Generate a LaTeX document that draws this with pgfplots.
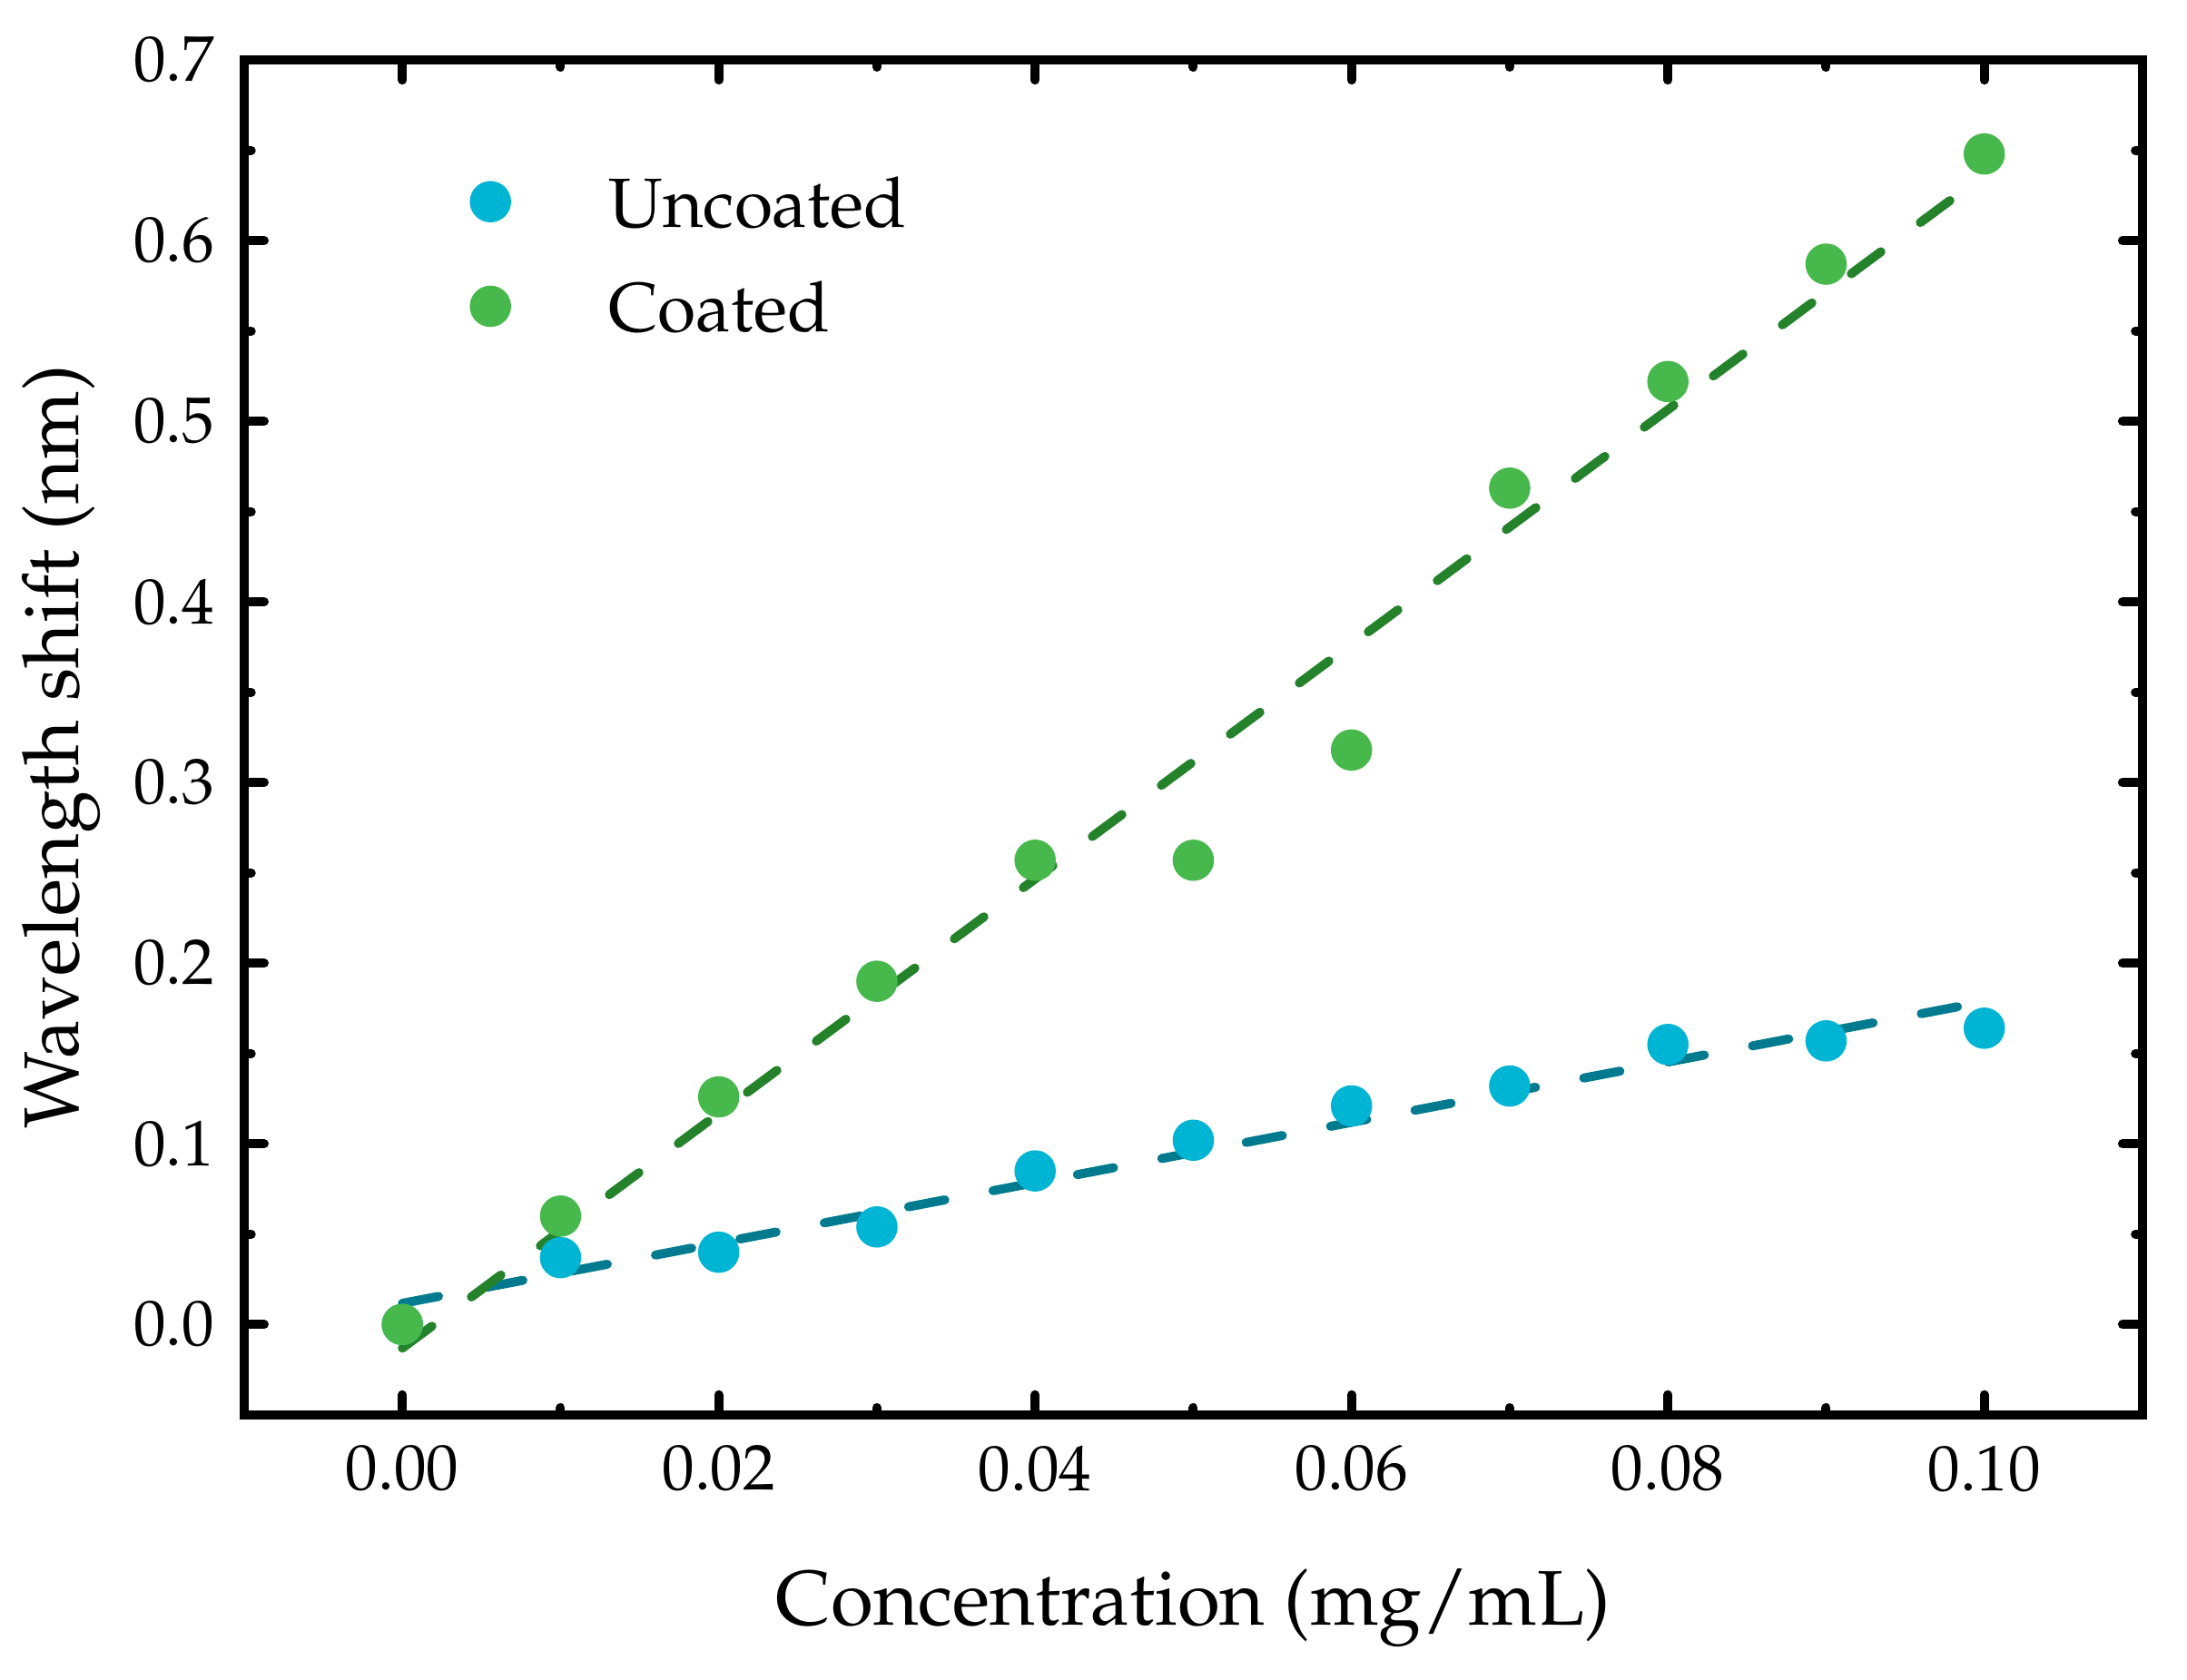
\documentclass[border=0pt]{standalone}
\usepackage[T1]{fontenc}
\usepackage{mathpazo}
\usepackage{pgfplots}
\pgfplotsset{compat=1.18}

\definecolor{uncmark}{RGB}{0,180,212}
\definecolor{uncline}{RGB}{0,122,143}
\definecolor{coamark}{RGB}{71,184,75}
\definecolor{coaline}{RGB}{35,130,42}

\begin{document}
\begin{tikzpicture}
\begin{axis}[
    scale only axis,
    width=293.9pt, height=209.8pt,
    xmin=-0.01, xmax=0.11,
    ymin=-0.05, ymax=0.7,
    xtick={0,0.02,0.04,0.06,0.08,0.1},
    ytick={0,0.1,0.2,0.3,0.4,0.5,0.6,0.7},
    minor x tick num=1,
    minor y tick num=1,
    tick align=inside,
    major tick length=3.1pt,
    minor tick length=1.1pt,
    every tick/.style={black, line width=1.4pt, line cap=round},
    axis line style={line width=1.45pt},
    scaled ticks=false,
    xticklabel style={/pgf/number format/fixed, /pgf/number format/fixed zerofill,
        /pgf/number format/precision=2, yshift=-1.2pt},
    yticklabel style={/pgf/number format/fixed, /pgf/number format/fixed zerofill,
        /pgf/number format/precision=1, xshift=-1.1pt},
    ticklabel style={font=\fontsize{10}{12}\selectfont},
    xlabel={Concentration (mg/mL)},
    ylabel={Wavelength shift (nm)},
    label style={font=\fontsize{12}{14}\selectfont},
    xlabel style={at={(axis description cs:0.5,-0.1554)}, anchor=base},
    ylabel style={at={(axis description cs:-0.0871,0.493)}, anchor=base},
    legend style={draw=none, fill=none, at={(0.118,0.935)}, anchor=north west,
        inner sep=0pt, font=\fontsize{10.8}{13}\selectfont,
        nodes={text height=8pt, text depth=0pt, inner ysep=4.1pt}},
    legend cell align=left,
    legend image code/.code={
        \path[draw=none] (-3.25pt,0pt) -- (16.3pt,0pt);
        \draw[#1] plot coordinates {(0pt,0pt)};
    },
]
% measured points
\addplot[only marks, mark=*, mark size=3.0pt, color=uncmark] coordinates {
    (0.00,0.000) (0.01,0.037) (0.02,0.040) (0.03,0.054) (0.04,0.085)
    (0.05,0.102) (0.06,0.121) (0.07,0.132) (0.08,0.155) (0.09,0.157)
    (0.10,0.164)
};
\addlegendentry{Uncoated}
\addplot[only marks, mark=*, mark size=3.0pt, color=coamark] coordinates {
    (0.00,0.000) (0.01,0.060) (0.02,0.126) (0.03,0.190) (0.04,0.257)
    (0.05,0.257) (0.06,0.318) (0.07,0.463) (0.08,0.522) (0.09,0.587)
    (0.10,0.648)
};
\addlegendentry{Coated}
% linear fits
\addplot[forget plot, color=uncline, line width=1.4pt, line cap=round,
    dash pattern=on 5.7pt off 7.6pt] coordinates {(0,0.0117) (0.1,0.1787)};
\addplot[forget plot, color=coaline, line width=1.4pt, line cap=round,
    dash pattern=on 5.7pt off 7.6pt] coordinates {(0,-0.0131) (0.1,0.6363)};
\end{axis}
\pgfresetboundingbox
\path ([shift={(-37.8pt,-41.0pt)}]current axis.south west) rectangle ([shift={(6.9pt,9.3pt)}]current axis.north east);
\end{tikzpicture}
\end{document}
